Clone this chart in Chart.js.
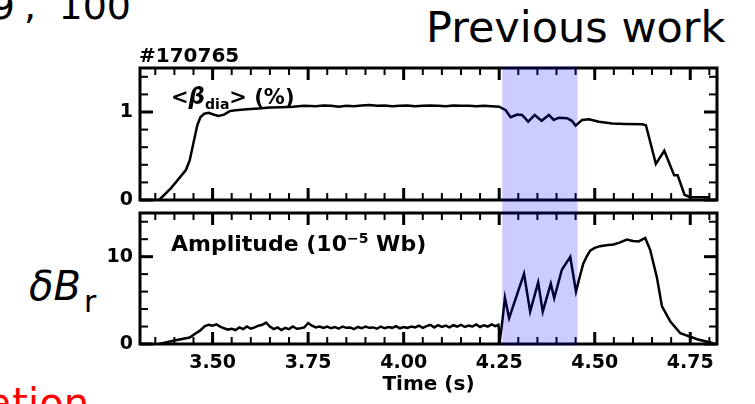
<!DOCTYPE html>
<html lang="en">
<head>
<meta charset="UTF-8">
<title>Previous work - #170765</title>
<script src="https://cdn.jsdelivr.net/npm/chart.js"></script>
<style>
    body {
        margin: 0;
        background: #fff;
        font-family: 'DejaVu Sans', sans-serif;
    }
    .page {
        position: relative;
        width: 755px;
        height: 404px;
        overflow: hidden;
    }
    canvas {
        position: absolute;
    }
    .txt {
        position: absolute;
        white-space: nowrap;
        line-height: 1;
        color: #000;
        z-index: 2;
    }
</style>
</head>
<body>
<div class="page">
    <canvas id="betaChart" width="630" height="147" style="left:100px; top:60px"></canvas>
    <canvas id="ampChart" width="630" height="197" style="left:100px; top:207px"></canvas>

    <div class="txt" style="right:740px; top:-13px; font-size:38px;">9</div>
    <div class="txt" style="left:24px; top:-13px; font-size:38px;">,</div>
    <div class="txt" style="right:624px; top:-13px; font-size:38px;">100</div>
    <div class="txt" style="left:426px; top:6px; font-size:43px;">Previous work</div>
    <div class="txt" style="left:139px; top:45px; font-size:20px; font-weight:bold;">#170765</div>
    <div class="txt" style="left:171px; top:85px; font-size:21px; font-weight:bold;">&lt;<i style="font-size:23px">β</i><span style="font-size:14px; position:relative; top:5px">dia</span>&gt; (%)</div>
    <div class="txt" style="left:171px; top:233px; font-size:22px; font-weight:bold;">Amplitude (10<span style="font-size:14px; position:relative; top:-8px">−5</span> Wb)</div>
    <div class="txt" style="left:29px; top:266px; font-size:40px; font-style:italic;">δB<span style="font-size:30px; font-style:normal; position:relative; top:12px; margin-left:3px">r</span></div>
    <div class="txt" style="right:666px; top:383px; font-size:40px; color:#ff0000;">ation</div>
</div>
<script>
    // time axis
    const xMin = 3.31, xMax = 4.82;
    const xMajorTicks = [3.50, 3.75, 4.00, 4.25, 4.50, 4.75];
    const xMinorStep = 0.05;

    // shaded window (s)
    const shadeStart = 4.258, shadeEnd = 4.455;

    // <beta_dia> (%)
    const betaMajorTicks = [0, 1];
    const betaMax = 1.5, betaMinorStep = 0.2;
    const betaTime = [3.36, 3.39, 3.415, 3.43, 3.44, 3.45, 3.46, 3.468, 3.478, 3.49, 3.50, 3.515, 3.53, 3.545, 3.56, 3.59,
        3.62, 3.65, 3.68, 3.71, 3.74, 3.77, 3.79, 3.81, 3.83, 3.85, 3.87, 3.89, 3.91, 3.93, 3.95, 3.97, 3.99,
        4.01, 4.03, 4.05, 4.07, 4.09, 4.11, 4.13, 4.15, 4.17, 4.19, 4.21, 4.23, 4.25, 4.267, 4.28, 4.297, 4.31,
        4.326, 4.343, 4.361, 4.38, 4.393, 4.406, 4.428, 4.44, 4.45, 4.467, 4.485, 4.511, 4.546, 4.58, 4.625,
        4.634, 4.66, 4.682, 4.708, 4.717, 4.735, 4.75, 4.80];
    const betaValue = [0, 0.13, 0.26, 0.34, 0.45, 0.65, 0.85, 0.94, 0.98, 0.99, 0.975, 0.955, 0.97, 1.01, 1.02, 1.03,
        1.04, 1.05, 1.055, 1.06, 1.07, 1.065, 1.075, 1.07, 1.06, 1.07, 1.065, 1.075, 1.08, 1.07, 1.075, 1.065, 1.07,
        1.075, 1.065, 1.07, 1.075, 1.07, 1.065, 1.075, 1.07, 1.07, 1.065, 1.07, 1.065, 1.06, 1.02, 0.94, 0.97, 0.966,
        0.89, 0.966, 0.90, 0.966, 0.91, 0.935, 0.93, 0.90, 0.845, 0.91, 0.917, 0.89, 0.87, 0.865, 0.86,
        0.85, 0.41, 0.56, 0.28, 0.28, 0.06, 0.03, 0.03];

    // mode amplitude (1e-5 Wb)
    const ampMajorTicks = [0, 10];
    const ampMax = 15, ampMinorStep = 2;
    const ampTime = [3.36, 3.40, 3.44, 3.455, 3.466, 3.48, 3.49, 3.50, 3.51, 3.52, 3.53, 3.54, 3.55, 3.56, 3.57, 3.58,
        3.59, 3.60, 3.61, 3.62, 3.63, 3.64, 3.65, 3.66, 3.67, 3.68, 3.69, 3.70, 3.71, 3.72, 3.73, 3.74, 3.75, 3.76,
        3.77, 3.78, 3.79, 3.80, 3.81, 3.82, 3.83, 3.84, 3.85, 3.86, 3.87, 3.88, 3.89, 3.90, 3.91, 3.92, 3.93, 3.94,
        3.95, 3.96, 3.97, 3.98, 3.99, 4.00, 4.01, 4.02, 4.03, 4.04, 4.05, 4.06, 4.07, 4.08, 4.09, 4.10, 4.11, 4.12,
        4.13, 4.14, 4.15, 4.16, 4.17, 4.18, 4.19, 4.20, 4.21, 4.22, 4.23, 4.24, 4.248, 4.252, 4.258, 4.265, 4.276,
        4.315, 4.331, 4.352, 4.364, 4.385, 4.394, 4.414, 4.436, 4.451, 4.462, 4.47, 4.48, 4.488, 4.50, 4.514, 4.53,
        4.549, 4.565, 4.584, 4.60, 4.615, 4.632, 4.645, 4.663, 4.676, 4.698, 4.724, 4.768, 4.81];
    const ampValue = [0, 0.4, 0.75, 1.2, 1.5, 2.05, 2.2, 2.1, 2.25, 2.0, 1.8, 1.65, 1.75, 1.6, 1.9, 1.7,
        2.0, 1.75, 1.9, 2.1, 2.2, 2.45, 2.0, 1.7, 1.9, 1.6, 1.85, 1.7, 2.0, 1.75, 1.8, 1.9, 2.4, 2.1,
        1.9, 2.0, 1.85, 2.0, 1.8, 1.95, 1.75, 2.0, 1.85, 1.9, 1.7, 1.95, 1.8, 2.0, 1.85, 1.9, 1.75, 2.0,
        1.8, 1.95, 1.85, 2.05, 1.8, 1.95, 1.85, 2.0, 1.9, 2.1, 1.85, 2.05, 2.2, 1.9, 2.15, 1.95, 2.1, 1.9,
        2.15, 2.0, 2.2, 1.95, 2.1, 2.0, 2.25, 1.95, 2.15, 2.0, 2.25, 2.05, 2.2, 0.5, 2.5, 5.3, 2.95,
        8.05, 3.7, 7.05, 3.7, 6.9, 5.25, 8.5, 9.97, 6.0, 7.9, 9.2, 10.1, 10.7, 11.0, 11.2, 11.3,
        11.4, 11.6, 11.95, 11.8, 11.75, 12.15, 10.8, 7.55, 4.3, 2.56, 1.23, 0.54, 0.08];

    function stepList(from, to, step) {
        const out = [];
        for (let v = from; v <= to + 1e-9; v += step) out.push(Math.round(v * 1000) / 1000);
        return out;
    }
    const isMajor = (list, v) => list.some(m => Math.abs(m - v) < 1e-6);
    const toPoints = (xs, ys) => xs.map((t, i) => ({ x: t, y: ys[i] }));

    // inward tick marks on all four sides, heavy frame, and the blue time window
    const frameTicks = {
        id: 'frameTicks',
        afterDatasetsDraw(chart, args, opts) {
            const { ctx, chartArea: a, scales: { x, y } } = chart;
            ctx.save();
            ctx.strokeStyle = '#000';
            const seg = (x1, y1, x2, y2, w) => {
                ctx.lineWidth = w;
                ctx.beginPath();
                ctx.moveTo(x1, y1);
                ctx.lineTo(x2, y2);
                ctx.stroke();
            };
            x.ticks.forEach(t => {
                const px = x.getPixelForValue(t.value);
                const big = isMajor(xMajorTicks, t.value);
                const len = big ? 12 : 7, w = big ? 3 : 2;
                seg(px, a.bottom, px, a.bottom - len, w);
                seg(px, a.top, px, a.top + len, w);
            });
            y.ticks.forEach(t => {
                const py = y.getPixelForValue(t.value);
                const big = isMajor(opts.yMajor, t.value);
                const len = big ? 13 : 8, w = big ? 3 : 2;
                seg(a.left, py, a.left + len, py, w);
                seg(a.right, py, a.right - len, py, w);
            });
            ctx.lineWidth = 3;
            ctx.strokeRect(a.left, a.top, a.right - a.left, a.bottom - a.top);
            ctx.restore();
        },
        afterDraw(chart, args, opts) {
            const { ctx, chartArea: a, scales: { x } } = chart;
            const x0 = x.getPixelForValue(shadeStart);
            const x1 = x.getPixelForValue(shadeEnd);
            const top = opts.bandFromCanvasTop ? 0 : a.top - 1.5;
            const bottom = opts.bandToCanvasBottom ? chart.height : a.bottom + 1.5;
            ctx.save();
            ctx.fillStyle = 'rgba(0, 0, 255, 0.2)';
            ctx.fillRect(x0, top, x1 - x0, bottom - top);
            ctx.restore();
        }
    };

    Chart.defaults.font.family = "'DejaVu Sans', sans-serif";
    Chart.defaults.color = '#000';

    function makeChart(canvasId, times, values, cfg) {
        const xTicks = stepList(3.35, 4.80, xMinorStep);
        const yTicks = stepList(0, cfg.yMax - cfg.yStep / 2, cfg.yStep);
        return new Chart(document.getElementById(canvasId), {
            type: 'line',
            data: {
                datasets: [{
                    data: toPoints(times, values),
                    borderColor: '#000',
                    borderWidth: 2.5,
                    pointRadius: 0,
                    tension: 0,
                    fill: false
                }]
            },
            options: {
                responsive: false,
                animation: false,
                layout: { padding: { top: cfg.padTop, right: 13, left: 0, bottom: 0 } },
                scales: {
                    x: {
                        type: 'linear',
                        min: xMin,
                        max: xMax,
                        afterBuildTicks: s => { s.ticks = xTicks.map(v => ({ value: v })); },
                        afterFit: s => {
                            s.height = cfg.xHeight;
                            s.paddingLeft = 0;
                            s.paddingRight = 0;
                        },
                        grid: { display: false, drawTicks: false },
                        border: { display: false },
                        ticks: {
                            display: cfg.showX,
                            padding: 8,
                            maxRotation: 0,
                            autoSkip: false,
                            font: { size: 19, weight: 'bold' },
                            callback: v => isMajor(xMajorTicks, v) ? v.toFixed(2) : ''
                        },
                        title: {
                            display: cfg.showX,
                            text: 'Time (s)',
                            font: { size: 20, weight: 'bold' },
                            padding: { top: 0, bottom: 7 }
                        }
                    },
                    y: {
                        type: 'linear',
                        min: 0,
                        max: cfg.yMax,
                        afterBuildTicks: s => { s.ticks = yTicks.map(v => ({ value: v })); },
                        afterFit: s => {
                            s.width = 40;
                            s.paddingTop = 0;
                            s.paddingBottom = 0;
                        },
                        grid: { display: false, drawTicks: false },
                        border: { display: false },
                        ticks: {
                            padding: 7,
                            autoSkip: false,
                            font: { size: 19, weight: 'bold' },
                            callback: v => isMajor(cfg.yMajor, v) ? String(v) : ''
                        }
                    }
                },
                plugins: {
                    legend: { display: false },
                    tooltip: { enabled: false },
                    frameTicks: {
                        yMajor: cfg.yMajor,
                        bandFromCanvasTop: cfg.bandFromCanvasTop,
                        bandToCanvasBottom: cfg.bandToCanvasBottom
                    }
                }
            },
            plugins: [frameTicks]
        });
    }

    makeChart('betaChart', betaTime, betaValue, {
        yMax: betaMax, yStep: betaMinorStep, yMajor: betaMajorTicks,
        padTop: 8, xHeight: 7, showX: false,
        bandFromCanvasTop: false, bandToCanvasBottom: true
    });
    makeChart('ampChart', ampTime, ampValue, {
        yMax: ampMax, yStep: ampMinorStep, yMajor: ampMajorTicks,
        padTop: 6, xHeight: 60, showX: true,
        bandFromCanvasTop: true, bandToCanvasBottom: false
    });
</script>
</body>
</html>
